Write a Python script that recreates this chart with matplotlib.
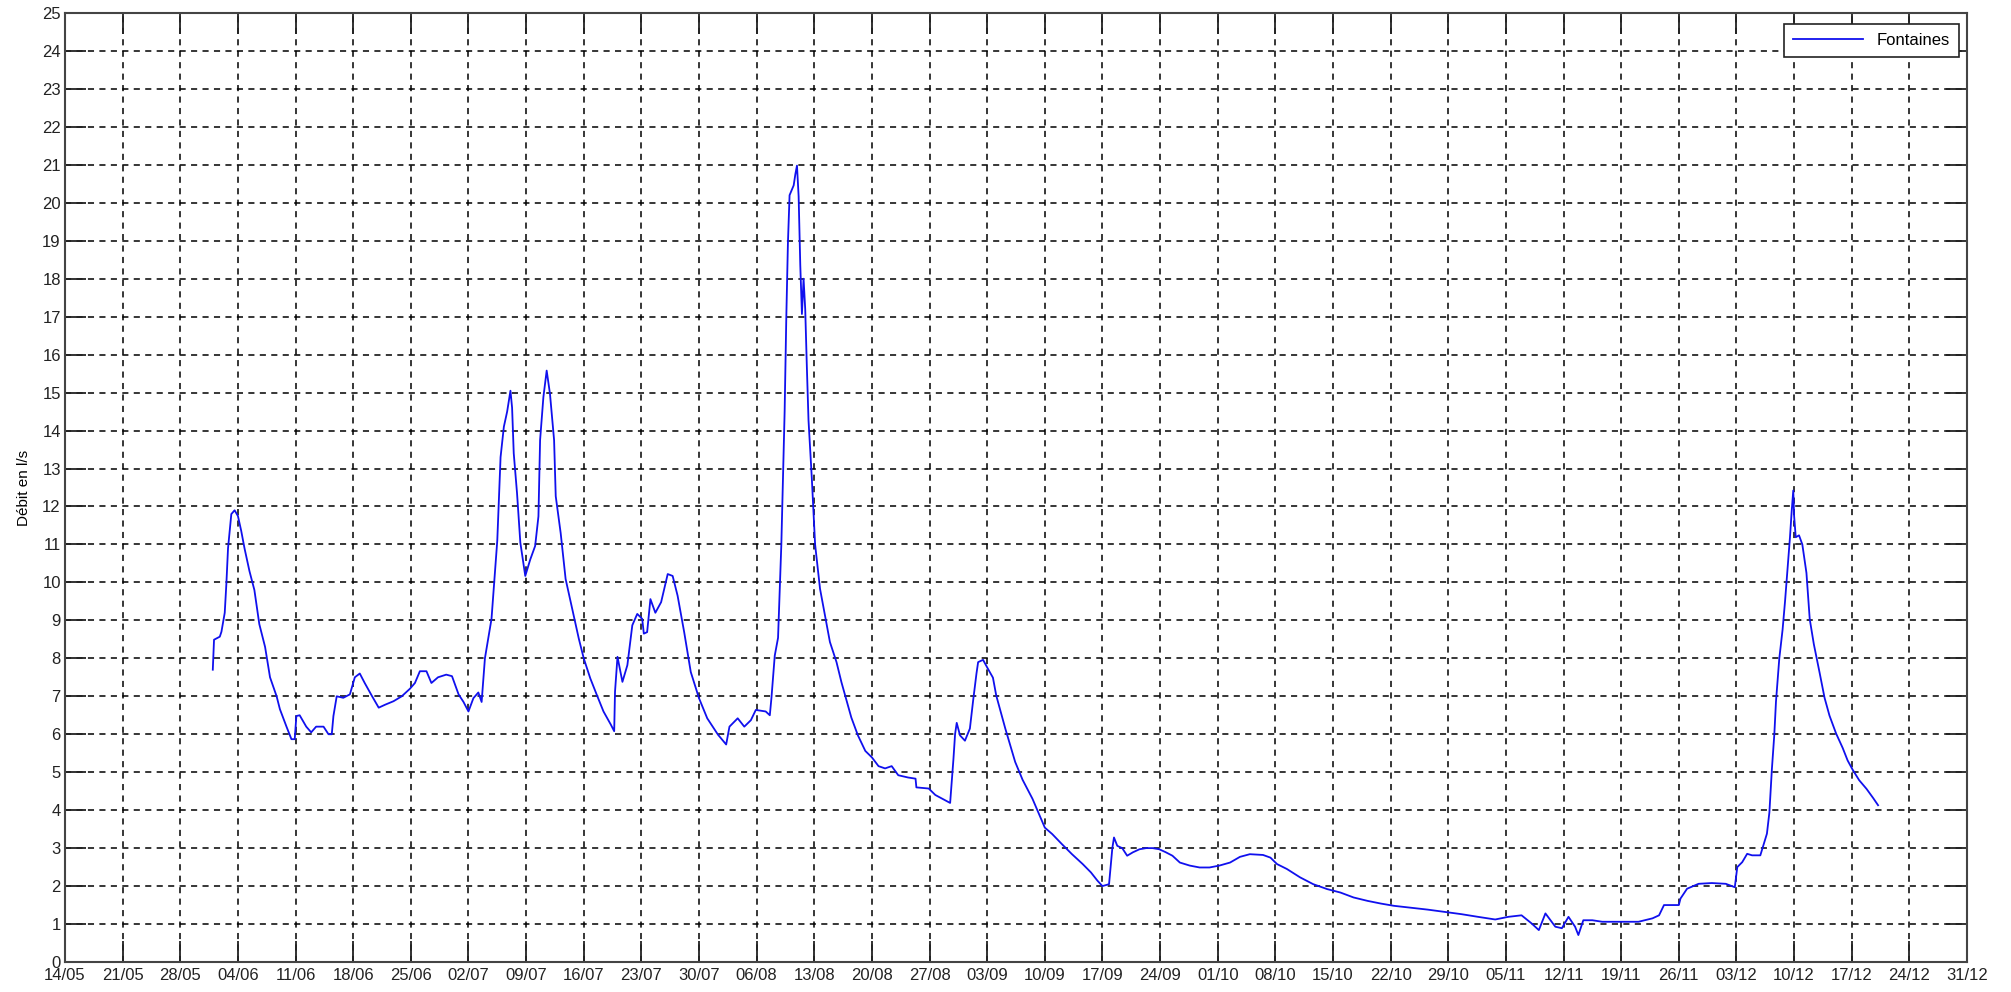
import matplotlib.pyplot as plt

# jours depuis le 14/05, debit en l/s
jours = [
    17.95, 18.1, 18.8, 19.0, 19.4, 19.6, 19.8, 20.2, 20.6, 21.0, 21.4, 21.8, 22.4, 23.0,
    23.6, 24.3, 24.9, 25.7, 26.1, 26.9, 27.5, 27.9, 28.1, 28.5, 29.3, 29.9, 30.5, 31.4,
    32.0, 32.4, 32.6, 33.0, 33.8, 34.6, 35.2, 35.8, 36.4, 37.3, 38.1, 38.9, 39.9, 40.9,
    41.9, 42.5, 43.1, 43.9, 44.5, 45.3, 46.3, 47.0, 47.8, 48.4, 49.0, 49.6, 50.2, 50.6,
    51.0, 51.8, 52.5, 52.9, 53.3, 53.7, 54.1, 54.3, 54.5, 54.9, 55.3, 55.9, 56.5, 57.1,
    57.5, 57.7, 58.1, 58.5, 58.9, 59.4, 59.6, 60.2, 60.8, 61.6, 62.4, 63.0, 63.8, 64.6,
    65.4, 66.3, 66.7, 66.8, 67.1, 67.7, 68.3, 68.9, 69.5, 70.1, 70.3, 70.7, 71.1, 71.7,
    72.4, 73.2, 73.8, 74.4, 75.2, 76.0, 77.0, 78.0, 79.3, 80.3, 80.7, 81.7, 82.5, 83.3,
    83.9, 85.1, 85.6, 85.8, 86.2, 86.6, 87.0, 87.4, 87.6, 87.8, 88.0, 88.5, 88.7, 88.9,
    89.1, 89.3, 89.5, 89.7, 89.9, 90.1, 90.3, 90.7, 91.1, 91.7, 92.3, 92.9, 93.7, 94.3,
    94.9, 95.5, 96.3, 97.2, 98.0, 98.8, 99.6, 100.4, 101.2, 102.4, 103.3, 103.4, 104.9,
    105.7, 106.9, 107.5, 107.9, 108.1, 108.3, 108.7, 109.3, 109.9, 110.3, 110.7, 110.9,
    111.5, 112.1, 112.7, 113.1, 114.2, 115.4, 116.3, 117.5, 119.0, 119.9, 121.1, 122.3,
    123.6, 124.6, 125.4, 126.0, 126.8, 127.2, 127.4, 127.8, 128.4, 129.0, 129.7, 130.5,
    131.3, 132.1, 132.9, 133.7, 134.5, 135.4, 136.6, 137.8, 139.0, 140.2, 141.5, 142.7,
    143.9, 145.5, 146.4, 147.2, 148.4, 150.0, 151.6, 153.3, 154.9, 156.5, 158.2, 159.8,
    161.4, 163.5, 165.5, 167.6, 169.6, 171.6, 173.7, 175.3, 176.9, 178.1, 179.0, 179.8,
    181.0, 181.8, 182.6, 183.4, 183.8, 184.4, 185.5, 186.7, 187.9, 189.5, 191.1, 192.8,
    193.6, 194.2, 196.0, 196.2, 197.0, 198.4, 200.0, 201.7, 202.8, 203.1, 203.7, 204.3,
    204.9, 205.9, 206.3, 206.7, 207.0, 207.3, 207.6, 207.8, 208.2, 208.6, 208.9, 209.2,
    209.5, 209.7, 209.9, 210.0, 210.2, 210.6, 211.0, 211.5, 211.9, 212.4, 213.1, 213.7,
    214.3, 215.1, 215.9, 216.5, 217.1, 217.9, 218.8, 219.6, 220.2,
]
debit = [
    7.7, 8.49, 8.57, 8.7, 9.2, 9.97, 10.9, 11.8, 11.9, 11.75, 11.36, 10.9, 10.3, 9.8,
    8.9, 8.3, 7.5, 7.0, 6.66, 6.2, 5.87, 5.87, 6.48, 6.5, 6.2, 6.05, 6.2, 6.2,
    6.0, 6.0, 6.48, 7.0, 6.96, 7.05, 7.5, 7.6, 7.35, 7.0, 6.7, 6.78, 6.87, 7.0,
    7.2, 7.35, 7.66, 7.66, 7.35, 7.5, 7.57, 7.53, 7.05, 6.85, 6.6, 6.95, 7.1, 6.85,
    8.0, 9.04, 11.1, 13.3, 14.1, 14.5, 15.05, 14.6, 13.4, 12.35, 11.05, 10.17, 10.6, 10.96,
    11.74, 13.75, 14.88, 15.58, 14.97, 13.75, 12.27, 11.3, 10.09, 9.3, 8.52, 8.0, 7.47, 7.03,
    6.6, 6.25, 6.08, 7.12, 8.04, 7.38, 7.82, 8.87, 9.17, 9.04, 8.65, 8.69, 9.56, 9.2,
    9.48, 10.22, 10.17, 9.65, 8.69, 7.64, 6.95, 6.42, 5.99, 5.73, 6.2, 6.42, 6.2, 6.37,
    6.64, 6.6, 6.5, 6.96, 8.07, 8.54, 11.0, 14.5, 16.95, 18.94, 20.2, 20.46, 20.75, 20.98,
    20.17, 18.36, 17.07, 18.0, 17.2, 15.67, 14.27, 12.75, 11.0, 9.83, 9.13, 8.43, 7.9, 7.37,
    6.91, 6.44, 5.97, 5.56, 5.39, 5.16, 5.1, 5.16, 4.92, 4.86, 4.83, 4.6, 4.57,
    4.4, 4.26, 4.19, 5.34, 6.0, 6.3, 5.97, 5.83, 6.15, 6.9, 7.6, 7.9,
    7.96, 7.72, 7.49, 7.02, 6.15, 5.27, 4.8, 4.3, 3.54, 3.37, 3.1, 2.84,
    2.58, 2.36, 2.14, 2.0, 2.05, 3.0, 3.28, 3.06, 3.0, 2.8, 2.89, 2.97,
    3.0, 3.0, 2.97, 2.89, 2.8, 2.62, 2.54, 2.49, 2.49, 2.54, 2.62, 2.77,
    2.84, 2.82, 2.75, 2.58, 2.45, 2.23, 2.05, 1.92, 1.83, 1.7, 1.61, 1.54,
    1.48, 1.43, 1.38, 1.32, 1.26, 1.19, 1.12, 1.19, 1.23, 1.02, 0.84, 1.28,
    0.93, 0.89, 1.19, 0.93, 0.71, 1.1, 1.1, 1.06, 1.06, 1.06, 1.06, 1.15,
    1.23, 1.5, 1.5, 1.67, 1.93, 2.06, 2.08, 2.06, 1.97, 2.5, 2.63, 2.85,
    2.81, 2.81, 3.1, 3.38, 3.94, 5.07, 6.0, 6.86, 7.99, 8.75, 9.5, 10.35,
    11.19, 11.85, 12.42, 11.76, 11.19, 11.24, 11.0, 10.25, 9.03, 8.37, 7.62, 6.96,
    6.49, 6.02, 5.64, 5.31, 5.07, 4.79, 4.56, 4.32, 4.13,
]

semaines = ["14/05", "21/05", "28/05", "04/06", "11/06", "18/06", "25/06", "02/07",
            "09/07", "16/07", "23/07", "30/07", "06/08", "13/08", "20/08", "27/08",
            "03/09", "10/09", "17/09", "24/09", "01/10", "08/10", "15/10", "22/10",
            "29/10", "05/11", "12/11", "19/11", "26/11", "03/12", "10/12", "17/12",
            "24/12", "31/12"]
graduations_y = list(range(0, 26))

plt.rcParams['font.family'] = ['Liberation Sans', 'DejaVu Sans']

fig = plt.figure(figsize=(20.11, 9.92), dpi=100)
ax = fig.add_axes([65 / 2011, 30 / 992, 1902 / 2011, 949 / 992])

ax.plot(jours, debit, color='#1010ee', linewidth=1.3, label='Fontaines')

ax.set_xlim(0, 7 * (len(semaines) - 1))
ax.set_ylim(0, 25)
ax.set_xticks([7 * i for i in range(len(semaines))])
ax.set_xticklabels(semaines)
ax.set_yticks(graduations_y)

# style "matlab": graduations vers l'interieur sur les 4 cotes
ax.tick_params(direction='in', length=15, width=1.3, top=True, right=True,
               labelsize=12, colors='#222222')
ax.tick_params(axis='x', pad=4)
ax.tick_params(axis='y', pad=3)
for sp in ax.spines.values():
    sp.set_linewidth(1.5)
    sp.set_color('#444444')

ax.grid(True, color='black', linestyle=(0, (4, 3.5)), linewidth=1.1)
ax.set_axisbelow(True)

ax.set_ylabel('Débit en l/s', fontsize=11, labelpad=8)

leg = ax.legend(loc='upper right', bbox_to_anchor=(0.9958, 0.9884), borderaxespad=0,
                fancybox=False, edgecolor='#222222', framealpha=1, fontsize=12,
                handlelength=4.2, borderpad=0.55)
leg.get_frame().set_linewidth(1.2)

fig.savefig('out.png', dpi=100)
